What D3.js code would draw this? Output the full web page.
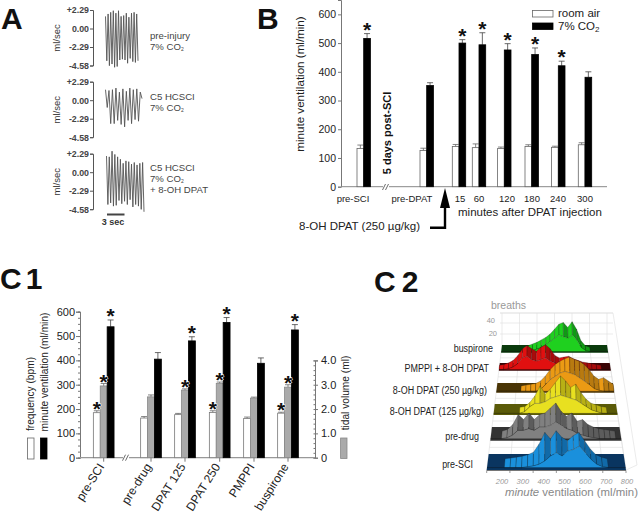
<!DOCTYPE html>
<html>
<head>
<meta charset="utf-8">
<script src="https://cdn.jsdelivr.net/npm/d3@7"></script>
<style>
  html, body { margin: 0; padding: 0; background: #fff; }
  svg { display: block; font-family: "Liberation Sans", Arial, sans-serif; }
</style>
</head>
<body>
<div class="chart"></div>
<script>
// panel A - peak / trough of each breath (ml/sec)
const traceTicks = [2.29, 0, -2.29, -4.58]
const tracePeaks1 = [1.5, 1.8, 2.0, 2.2, 1.9, 2.2, 1.5, 1.6, 1.9, 1.4, 1.9, 2.0, 1.8]
const traceLows1 = [-4.0, -4.6, -4.4, -4.8, -4.7, -3.9, -3.8, -3.9, -4.3, -3.7, -4.1, -4.2, -4.0]
const tracePeaks2 = [1.3, 1.2, 1.3, 1.5, 1.0, 1.4, 1.1, 1.5, 1.3, 1.4, 1.0]
const traceLows2 = [-0.9, -2.9, -2.9, -2.5, -3.0, -3.3, -2.5, -2.9, -2.4, -2.6, 0.2]
const tracePeaks3 = [2.0, 1.9, 2.6, 2.2, 1.9, 1.6, 1.1, 1.4, 1.3, 1.0, 1.2, 0.9, 1.1, 1.2]
const traceLows3 = [-4.0, -3.8, -4.2, -4.1, -3.5, -3.9, -3.6, -4.0, -3.4, -4.3, -4.0, -4.2, -4.6, -4.9]

// panel B
const catsB = ['pre-SCI', 'pre-DPAT', '15', '60', '120', '180', '240', '300']
const roomAir = [133, 126, 140, 136, 133, 140, 137, 146]
const roomAirErr = [12, 8, 7, 13, 5, 6, 4, 7]
const co2 = [516, 352, 500, 494, 476, 460, 421, 381]
const co2Err = [17, 10, 12, 42, 22, 23, 16, 19]
const starsB = [1, 0, 1, 1, 1, 1, 1, 0]

// panel C1
const catsC1 = ['pre-SCI', 'pre-drug', 'DPAT 125', 'DPAT 250', 'PMPPI', 'buspirone']
const freq = [185, 163, 177, 186, 161, 183]
const freqErr = [8, 6, 5, 7, 6, 4]
const tidal = [2.95, 2.5, 2.78, 3.05, 2.45, 2.9]
const tidalErr = [0.1, 0.08, 0.05, 0.06, 0.04, 0.1]
const minuteVent = [538, 405, 480, 556, 388, 525]
const minuteVentErr = [28, 27, 17, 20, 22, 22]
const starsFreq = [1, 0, 0, 1, 0, 1]
const starsTidal = [1, 0, 1, 1, 0, 1]
const starsVent = [1, 0, 1, 1, 0, 1]

// panel C2 - breaths per ventilation bin, back and front ridge of each condition
const bins = [200, 225, 250, 275, 300, 325, 350, 375, 400, 425, 450, 475, 500, 525, 550, 575, 600, 625, 650, 675, 700, 725, 750, 775, 800]
const binTicks = [200, 300, 400, 500, 600, 700, 800]
const namesC2 = ['buspirone', 'PMPPI + 8-OH DPAT', '8-OH DPAT (250 \u00b5g/kg)', '8-OH DPAT (125 \u00b5g/kg)', 'pre-drug', 'pre-SCI']
const backRidges = [
  [0, 0, 0, 0, 0, 0, 2, 4, 6, 9, 12, 16, 22, 28, 30, 24, 31, 22, 8, 2, 0, 0, 0, 0, 0],
  [0, 1, 3, 6, 12, 20, 24, 20, 17, 22, 25, 20, 12, 9, 10, 11, 8, 6, 4, 3, 2, 1, 0, 0, 0],
  [0, 0, 0, 0, 0, 0, 1, 2, 3, 6, 12, 20, 26, 30, 33, 35, 32, 30, 26, 20, 12, 8, 10, 6, 2],
  [0, 0, 0, 0, 0, 0, 1, 6, 14, 26, 16, 22, 30, 38, 32, 24, 28, 18, 10, 5, 3, 1, 0, 0, 0],
  [0, 0, 0, 2, 8, 20, 14, 22, 14, 20, 22, 28, 34, 24, 18, 22, 12, 14, 8, 5, 3, 2, 1, 0, 0],
  [0, 0, 0, 0, 1, 2, 3, 5, 8, 18, 32, 24, 34, 26, 22, 28, 32, 22, 12, 5, 2, 0, 0, 0, 0]
]
const frontRidges = [
  [0, 0, 0, 0, 0, 0, 0, 1, 3, 5, 8, 12, 16, 20, 18, 16, 20, 14, 5, 1, 0, 0, 0, 0, 0],
  [0, 0, 1, 3, 7, 14, 16, 12, 10, 12, 14, 10, 8, 6, 5, 4, 4, 3, 2, 1, 0, 0, 0, 0, 0],
  [0, 0, 0, 0, 0, 0, 0, 0, 0, 2, 8, 14, 18, 22, 24, 22, 20, 16, 12, 8, 3, 1, 0, 0, 0],
  [0, 0, 0, 0, 0, 0, 2, 8, 12, 12, 14, 18, 20, 22, 20, 18, 16, 12, 8, 4, 2, 0, 0, 0, 0],
  [0, 0, 0, 1, 4, 10, 10, 12, 10, 14, 14, 16, 20, 16, 12, 10, 6, 4, 2, 1, 0, 0, 0, 0, 0],
  [0, 0, 0, 0, 0, 0, 0, 1, 2, 4, 8, 14, 18, 14, 20, 22, 26, 18, 10, 4, 1, 0, 0, 0, 0]
]

const width = 640
const height = 514

const svg = d3.select('.chart').append('svg')
  .attr('width', width)
  .attr('height', height)

const ink = '#222'
const axisGrey = '#777'

function panelLetter (txt, x, y, spacing) {
  svg.append('text')
    .attr('x', x).attr('y', y)
    .attr('font-size', 30)
    .attr('font-weight', 'bold')
    .attr('letter-spacing', spacing)
    .attr('fill', '#111')
    .text(txt)
}

function rotatedLabel (txt, x, y, size, fill) {
  return svg.append('text')
    .attr('transform', `translate(${x},${y}) rotate(-90)`)
    .attr('text-anchor', 'middle')
    .attr('font-size', size)
    .attr('fill', fill || ink)
    .text(txt)
}

function styleAxis (g, color) {
  g.selectAll('path,line').attr('stroke', color)
  g.selectAll('text').attr('fill', ink)
}

// asterisk sits high in its em box, so pull it down to centre it on y
function star (x, y) {
  svg.append('text')
    .attr('x', x).attr('y', y + 11)
    .attr('text-anchor', 'middle')
    .attr('font-size', 21)
    .attr('font-weight', 'bold')
    .attr('fill', '#111')
    .attr('stroke', '#fff')
    .attr('stroke-width', 1)
    .attr('paint-order', 'stroke')
    .text('*')
}

function breakMark (x, y) {
  svg.append('rect').attr('x', x - 3).attr('y', y - 2).attr('width', 6).attr('height', 4).attr('fill', '#fff')
  ;[-2, 1].forEach(d => {
    svg.append('line')
      .attr('x1', x + d - 1.5).attr('y1', y + 3)
      .attr('x2', x + d + 1.5).attr('y2', y - 3)
      .attr('stroke', '#444')
      .attr('stroke-width', 0.8)
  })
}

function bar (x, y, w, baseY, fill, stroke) {
  svg.append('rect')
    .attr('x', x).attr('y', y)
    .attr('width', w).attr('height', baseY - y)
    .attr('fill', fill)
    .attr('stroke', stroke)
    .attr('stroke-width', 0.8)
}

function errorBar (cx, y1, y2, color) {
  svg.append('path')
    .attr('d', d3.line()([[cx, y1], [cx, y2]]) + d3.line()([[cx - 3, y2], [cx + 3, y2]]))
    .attr('fill', 'none')
    .attr('stroke', color)
    .attr('stroke-width', 0.8)
}

/* ---------- panel A ---------- */
panelLetter('A', 1, 29, 0)

const traceRows = [
  { top: 10, peaks: tracePeaks1, lows: traceLows1, x0: 105.5, x1: 138, lines: ['pre-injury', '7% CO'], ly: 39 },
  { top: 81.7, peaks: tracePeaks2, lows: traceLows2, x0: 105.5, x1: 142, lines: ['C5 HCSCI', '7% CO'], ly: 100 },
  { top: 153.7, peaks: tracePeaks3, lows: traceLows3, x0: 106.5, x1: 144, lines: ['C5 HCSCI', '7% CO', '+ 8-OH DPAT'], ly: 171 }
]

traceRows.forEach(row => {
  const y = d3.scaleLinear().domain([2.29, -4.58]).range([row.top, row.top + 55.5])
  const g = svg.append('g').attr('transform', 'translate(93,0)')
  g.call(d3.axisLeft(y).tickValues(traceTicks).tickSize(3).tickPadding(1)
    .tickFormat(d => d > 0 ? '+' + d.toFixed(2) : d.toFixed(2)))
  g.attr('font-family', null).attr('font-size', 8.8).attr('font-weight', 'bold')
  styleAxis(g, '#555')
  g.selectAll('text').attr('fill', '#444')

  rotatedLabel('ml/sec', 60, row.top + 28, 9.5, '#333')

  const pts = d3.merge(row.peaks.map((p, i) => [p, row.lows[i]]))
  const x = d3.scaleLinear().domain([0, pts.length - 1]).range([row.x0, row.x1])
  svg.append('path')
    .attr('d', d3.line().x((d, i) => x(i)).y(d => y(d))(pts))
    .attr('fill', 'none')
    .attr('stroke', '#555')
    .attr('stroke-width', 0.9)

  row.lines.forEach((t, i) => {
    const lab = svg.append('text')
      .attr('x', 150).attr('y', row.ly + i * 11)
      .attr('font-size', 9.6).attr('fill', '#444')
      .text(t)
    if (t.endsWith('CO')) lab.append('tspan').attr('font-size', 5).attr('dy', 1).text('2')
  })
})

svg.append('rect').attr('x', 107).attr('y', 213.5).attr('width', 17.5).attr('height', 2).attr('fill', '#444')
svg.append('text').attr('x', 113).attr('y', 225).attr('text-anchor', 'middle')
  .attr('font-size', 9).attr('font-weight', 'bold').attr('fill', '#333').text('3 sec')

/* ---------- panel B ---------- */
panelLetter('B', 257, 29, 0)

const xB = d3.scaleOrdinal().domain(catsB).range([363.7, 426.7, 459, 479, 504.3, 531.7, 558.3, 585])
const yB = d3.scaleLinear().domain([0, 650]).range([186.7, 0])
const barB = 6.7

const axisB = svg.append('g').attr('transform', 'translate(341,0)')
axisB.call(d3.axisLeft(yB).tickValues(d3.range(0, 601, 100)).tickSize(3).tickPadding(2))
axisB.attr('font-family', null).attr('font-size', 10.5)
styleAxis(axisB, axisGrey)

svg.append('line').attr('x1', 341).attr('x2', 607).attr('y1', yB(0)).attr('y2', yB(0))
  .attr('stroke', '#888').attr('stroke-width', 1)

catsB.forEach((c, i) => {
  const cx = xB(c)
  errorBar(cx - barB / 2, yB(roomAir[i]), yB(roomAir[i] + roomAirErr[i]), '#666')
  errorBar(cx + barB / 2, yB(co2[i]), yB(co2[i] + co2Err[i]), '#444')
  bar(cx - barB, yB(roomAir[i]), barB, yB(0), '#fff', '#666')
  bar(cx, yB(co2[i]), barB, yB(0), '#000', '#000')
  if (starsB[i]) star(cx + barB / 2, yB(co2[i] + co2Err[i]) - 8)
})

// labels under panel B are shifted off the bars in the original
const labelB = d3.scaleOrdinal().domain(catsB).range([353, 412, 460, 479, 507, 532, 558, 585])
catsB.forEach(c => {
  svg.append('text').attr('x', labelB(c)).attr('y', 202)
    .attr('text-anchor', 'middle').attr('font-size', 9.5).attr('fill', ink).text(c)
})

breakMark(386, 187)
rotatedLabel('minute ventilation (ml/min)', 304, 84, 11.6)
rotatedLabel('5 days post-SCI', 391, 133, 11, '#111').attr('font-weight', 'bold')

svg.append('text').attr('x', 458).attr('y', 216).attr('font-size', 11.5).attr('fill', ink)
  .text('minutes after DPAT injection')
svg.append('text').attr('x', 299).attr('y', 230).attr('font-size', 11.5).attr('fill', ink)
  .text('8-OH DPAT (250 \u00b5g/kg)')

// injection arrow
svg.append('path').attr('d', 'M445,188L450,208H440Z').attr('fill', '#000')
svg.append('path').attr('d', 'M445,206V227.7H430').attr('fill', 'none').attr('stroke', '#000').attr('stroke-width', 2.4)

bar(532.5, 10.5, 20.5, 17, '#fff', '#666')
bar(532.5, 23, 20.5, 29.5, '#000', '#000')
svg.append('text').attr('x', 558).attr('y', 16.5).attr('font-size', 11.5).attr('fill', ink).text('room air')
const co2Lab = svg.append('text').attr('x', 558).attr('y', 30).attr('font-size', 11.5).attr('fill', ink).text('7% CO')
co2Lab.append('tspan').attr('font-size', 8).attr('dy', 2).text('2')

/* ---------- panel C1 ---------- */
panelLetter('C1', 0, 289, 4)

const xC1 = d3.scaleOrdinal().domain(catsC1).range([103.7, 151, 185, 219.7, 254, 288])
const yC1 = d3.scaleLinear().domain([0, 600]).range([457.7, 311.7])
const yTidal = d3.scaleLinear().domain([0, 4]).range([457.7, 360.4])
const barC1 = 6.9

const axisL = svg.append('g').attr('transform', 'translate(80,0)')
axisL.call(d3.axisLeft(yC1).tickValues(d3.range(0, 601, 100)).tickSize(4).tickPadding(1))
axisL.attr('font-family', null).attr('font-size', 11)
styleAxis(axisL, axisGrey)
svg.append('g').attr('transform', 'translate(80,0)')
  .call(d3.axisLeft(yC1).tickValues(d3.range(0, 601, 25)).tickSize(2).tickFormat(''))
  .call(g => styleAxis(g, axisGrey))

const axisR = svg.append('g').attr('transform', 'translate(315,0)')
axisR.call(d3.axisRight(yTidal).tickValues([0, 1, 2, 3, 4]).tickSize(3).tickPadding(3)
  .tickFormat(d => d === 0 ? '0' : d.toFixed(1)))
axisR.attr('font-family', null).attr('font-size', 11)
styleAxis(axisR, axisGrey)
svg.append('g').attr('transform', 'translate(315,0)')
  .call(d3.axisLeft(yTidal).tickValues(d3.range(0, 4.01, 0.2)).tickSize(1.5).tickFormat(''))
  .call(g => styleAxis(g, axisGrey))

svg.append('line').attr('x1', 80).attr('x2', 315).attr('y1', yC1(0)).attr('y2', yC1(0))
  .attr('stroke', '#999').attr('stroke-width', 1.2)

catsC1.forEach((c, i) => {
  const cx = xC1(c)
  const left = cx - barC1 * 1.5
  const mid = cx - barC1 / 2
  const right = cx + barC1 / 2
  errorBar(left + barC1 / 2, yC1(freq[i]), yC1(freq[i] + freqErr[i]), '#666')
  errorBar(cx, yTidal(tidal[i]), yTidal(tidal[i] + tidalErr[i]), '#666')
  errorBar(right + barC1 / 2, yC1(minuteVent[i]), yC1(minuteVent[i] + minuteVentErr[i]), '#444')
  bar(left, yC1(freq[i]), barC1, yC1(0), '#fff', '#777')
  bar(mid, yTidal(tidal[i]), barC1, yC1(0), '#aaa', '#888')
  bar(right, yC1(minuteVent[i]), barC1, yC1(0), '#000', '#000')
  if (starsFreq[i]) star(left + barC1 / 2, yC1(freq[i] + freqErr[i]) - 6)
  if (starsTidal[i]) star(cx, yTidal(tidal[i] + tidalErr[i]) - 6)
  if (starsVent[i]) star(right + barC1 / 2, yC1(minuteVent[i] + minuteVentErr[i]) - 8)

  svg.append('line').attr('x1', cx).attr('x2', cx).attr('y1', yC1(0)).attr('y2', yC1(0) + 4)
    .attr('stroke', axisGrey)
  svg.append('text')
    .attr('transform', `translate(${cx + 1},${yC1(0) + 9}) rotate(-58)`)
    .attr('text-anchor', 'end')
    .attr('font-size', 12)
    .attr('fill', ink)
    .text(c)
})

breakMark(126, yC1(0))
rotatedLabel('frequency (bpm)', 34, 394, 10.2)
rotatedLabel('minute ventilation (ml/min)', 48, 372, 10.2)
rotatedLabel('tidal volume (ml)', 349, 393, 10.2)
bar(27.5, 438, 6.5, 459, '#fff', '#666')
bar(40.5, 438, 6.5, 459, '#000', '#000')
bar(340.6, 438, 6.4, 458.5, '#aaa', '#888')

/* ---------- panel C2 ---------- */
panelLetter('C2', 374, 292, 6)

const floorY = [345, 470]
const edgeL = d3.scaleLinear().domain(floorY).range([502, 486.7])
const edgeR = d3.scaleLinear().domain(floorY).range([607, 626])
const px = (mv, y) => d3.scaleLinear().domain([200, 800]).range([edgeL(y), edgeR(y)])(mv)
const breathH = d3.scaleLinear().domain([0, 40]).range([0, 33])

const rowBack = [345, 363, 383, 404, 427, 454]
const rowFront = [352.7, 370.7, 392.7, 415, 440.7, 470]
const rowLabelX = [493, 489, 487, 484, 479, 473]
const rowLabelY = [352, 371.5, 393.5, 415, 440, 468]
const bandFill = ['#0a3a0c', '#3a0506', '#4a3506', '#5a5a08', '#333333', '#0a3560']
const peakFill = ['#1fd01f', '#e01010', '#eb9a14', '#e8e020', '#808080', '#1a90dc']
const peakDark = ['#0f9a14', '#a80b0b', '#b87a10', '#b8b015', '#5c5c5c', '#116aa8']

const grid = svg.append('g').attr('stroke', '#ddd').attr('stroke-width', 0.6).attr('fill', 'none')
binTicks.forEach(mv => {
  grid.append('line').attr('x1', px(mv, 345)).attr('y1', 313).attr('x2', px(mv, 345)).attr('y2', 345)
  grid.append('line').attr('x1', px(mv, 345)).attr('y1', 345).attr('x2', px(mv, 470)).attr('y2', 470)
})
;[313, 323, 334].forEach(y => {
  grid.append('line').attr('x1', 500).attr('y1', y).attr('x2', 613).attr('y2', y)
})
rowFront.forEach((y, i) => {
  const mid = i < rowBack.length - 1 ? (y + rowBack[i + 1]) / 2 : y
  grid.append('line').attr('x1', edgeL(mid)).attr('y1', mid).attr('x2', edgeR(mid)).attr('y2', mid)
})
grid.append('path').attr('d', 'M500,313L613,313L637,465L626,470L607,345')

namesC2.forEach((name, r) => {
  const yB0 = rowBack[r]
  const yF0 = rowFront[r]
  const yBack = yB0 + (yF0 - yB0) * 0.3
  const yFront = yB0 + (yF0 - yB0) * 0.85

  svg.append('path')
    .attr('d', d3.line()([[edgeL(yB0), yB0], [edgeR(yB0), yB0], [edgeR(yF0), yF0], [edgeL(yF0), yF0]]) + 'Z')
    .attr('fill', bandFill[r])

  const ridge = (vals, y0) => vals.map((v, i) => [px(bins[i], y0), y0 - breathH(v)])
  const back = ridge(backRidges[r], yBack)
  const front = ridge(frontRidges[r], yFront)
  const active = bins.map((b, i) => backRidges[r][i] > 0 || frontRidges[r][i] > 0)

  // mesh between the back and the front ridge, flat cells stay in the band colour
  bins.slice(0, -1).forEach((b, i) => {
    if (!active[i] && !active[i + 1]) return
    const falling = backRidges[r][i + 1] < backRidges[r][i]
    svg.append('path')
      .attr('d', d3.line()([back[i], back[i + 1], front[i + 1], front[i]]) + 'Z')
      .attr('fill', falling ? peakDark[r] : peakFill[r])
      .attr('stroke', '#111')
      .attr('stroke-opacity', 0.6)
      .attr('stroke-width', 0.4)
  })

  svg.append('path')
    .attr('d', d3.line()(front.concat([[px(800, yFront), yFront], [px(200, yFront), yFront]])))
    .attr('fill', peakFill[r])
    .attr('stroke', '#111')
    .attr('stroke-opacity', 0.5)
    .attr('stroke-width', 0.4)

  // condensed look of the original labels
  svg.append('text')
    .attr('transform', `translate(${rowLabelX[r]},${rowLabelY[r]}) scale(0.78,1)`)
    .attr('text-anchor', 'end')
    .attr('font-size', 11.5)
    .attr('fill', ink)
    .text(name)
})

// front axis
svg.append('line').attr('x1', 486.7).attr('x2', 626).attr('y1', 470.5).attr('y2', 470.5).attr('stroke', '#555').attr('stroke-width', 0.8)
const xFront = d3.scaleLinear().domain([200, 800]).range([502, 627])
binTicks.forEach(mv => {
  svg.append('line').attr('x1', px(mv, 470)).attr('x2', px(mv, 470)).attr('y1', 470.5).attr('y2', 473).attr('stroke', '#555').attr('stroke-width', 0.6)
  svg.append('text').attr('x', xFront(mv)).attr('y', 484)
    .attr('text-anchor', 'middle').attr('font-size', 7.5).attr('font-style', 'italic').attr('fill', '#999').text(mv)
})

const xTitle = svg.append('text').attr('x', 505).attr('y', 496).attr('font-size', 11.4).attr('fill', '#888')
xTitle.append('tspan').attr('font-style', 'italic').text('minute')
xTitle.append('tspan').text(' ventilation (ml/min)')

svg.append('text').attr('x', 491).attr('y', 309).attr('font-size', 10.5).attr('fill', '#999').text('breaths')
svg.append('text').attr('x', 495).attr('y', 323).attr('text-anchor', 'end').attr('font-size', 7.5).attr('fill', '#999').text('40')
svg.append('text').attr('x', 497).attr('y', 336).attr('text-anchor', 'end').attr('font-size', 7.5).attr('fill', '#999').text('20')
</script>
</body>
</html>
